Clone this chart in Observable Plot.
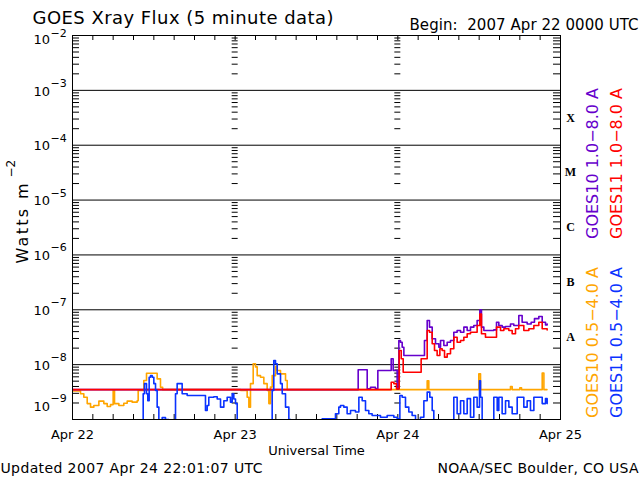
<!DOCTYPE html>
<html><head><meta charset="utf-8">
<script src="https://cdn.jsdelivr.net/npm/d3@7"></script>
<script src="https://cdn.jsdelivr.net/npm/@observablehq/plot@0.6"></script>
<style>body{margin:0;background:#fff} svg{display:block}</style>
</head><body><div id="chart"></div>
<script>
const startDate = "2007-04-22T00:00:00Z";
const dayLabels = ["Apr 22", "Apr 23", "Apr 24", "Apr 25"];
const decadeExponents = [-2, -3, -4, -5, -6, -7, -8, -9];
const flareClasses = ["X", "M", "C", "B", "A"];
const flareClassFloors = [1e-4, 1e-5, 1e-6, 1e-7, 1e-8];
const titleText = "GOES Xray Flux (5 minute data)";
const beginText = "Begin:  2007 Apr 22 0000 UTC";
const updatedText = "Updated 2007 Apr 24 22:01:07 UTC";
const creditText = "NOAA/SEC Boulder, CO USA";
const xTitle = "Universal Time";
const yTitle = "Watts m";

// hours since 2007-04-22 00:00 UTC, flux in W m^-2
const goes10ShortHours = [0,1.18,1.67,2.17,2.66,3.15,3.89,4.62,5.12,5.61,6.0,6.2,6.84,7.57,8.07,8.8,9.54,9.69,10.03,10.52,10.92,12.25,12.49,12.98,13.3,24.79,25.77,26.02,26.26,26.66,27.0,27.25,27.74,28.23,28.72,28.97,29.21,29.46,29.95,30.2,30.69,31.43,31.68,52.33,52.57,59.95,60.2,64.62,64.87,66.0,66.25,69.3,69.55,70.0];
const goes10ShortFlux = [3.3e-9,2.95e-9,2.55e-9,1.95e-9,1.68e-9,1.8e-9,2.16e-9,1.95e-9,1.73e-9,1.87e-9,3.4e-9,1.95e-9,1.8e-9,1.98e-9,2.16e-9,2.07e-9,2.2e-9,3.4e-9,3.4e-9,5.14e-9,6.98e-9,6.98e-9,5.5e-9,3.88e-9,3.5e-9,3.4e-9,2.55e-9,1.68e-9,4.5e-9,1.04e-8,9.1e-9,6.3e-9,5.9e-9,4.5e-9,3.4e-9,1.95e-9,3.9e-9,6.3e-9,9.25e-9,7.8e-9,6.8e-9,5.14e-9,3.5e-9,5.1e-9,3.5e-9,6.8e-9,3.5e-9,4.0e-9,3.5e-9,3.8e-9,3.5e-9,7.0e-9,3.5e-9,3.5e-9];

const goes11ShortHours = [0,10.28,10.43,10.62,10.92,11.11,11.31,11.51,11.76,12.0,12.25,12.49,12.74,13.23,13.72,14.2,14.95,15.2,15.44,15.93,16.18,16.92,19.38,19.62,19.87,20.11,20.85,21.35,21.84,22.33,22.82,23.31,23.56,23.8,24.05,24.3,29.21,29.46,29.7,29.95,30.2,30.69,30.94,31.43,31.92,32.2,36.84,38.56,38.8,39.29,39.54,40.03,40.52,41.02,41.75,42.25,42.74,43.23,43.72,44.21,45.44,46.43,47.41,47.9,48.3,48.64,49.13,49.62,50.11,50.61,51.34,51.84,52.33,52.72,53.07,53.31,56.02,56.26,56.75,57.25,57.74,58.23,58.72,59.21,59.7,60.05,60.2,60.44,61.67,62.16,62.66,62.9,63.39,63.89,64.38,64.87,65.61,66.1,66.59,67.08,67.57,68.07,68.8,69.3,69.79,70.03];
const goes11ShortFlux = [8e-10,8e-10,2.95e-9,4.5e-9,2.95e-9,2.2e-9,5.9e-9,6.3e-9,5.9e-9,4.5e-9,3.4e-9,1.68e-9,8e-10,1.08e-9,1.0e-9,8e-10,8e-10,2.95e-9,4.5e-9,4.5e-9,2.95e-9,2.74e-9,2.74e-9,1.46e-9,1.8e-9,2.55e-9,2.6e-9,2.37e-9,1.68e-9,2.2e-9,2.55e-9,2.07e-9,2.95e-9,2.37e-9,1.95e-9,8e-10,8e-10,3.4e-9,1.19e-8,1.04e-8,6.8e-9,4.5e-9,2.95e-9,1.68e-9,1.0e-9,8e-10,1.03e-9,1.03e-9,1.27e-9,1.68e-9,1.8e-9,1.68e-9,1.27e-9,1.46e-9,1.37e-9,2.55e-9,2.2e-9,1.46e-9,1.27e-9,1.18e-9,1.1e-9,1.18e-9,1.1e-9,1.03e-9,2.74e-9,2.55e-9,1.68e-9,1.37e-9,1.18e-9,8e-10,1.1e-9,2.2e-9,3.15e-9,2.55e-9,1.46e-9,8e-10,8e-10,2.55e-9,1.27e-9,2.2e-9,1.27e-9,2.4e-9,1.1e-9,2.55e-9,1.68e-9,5.1e-9,2.55e-9,8e-10,8e-10,2.55e-9,1.46e-9,2.55e-9,1.27e-9,2.2e-9,1.68e-9,1.27e-9,2.55e-9,2.55e-9,1.68e-9,2.2e-9,1.46e-9,2.55e-9,2.55e-9,1.95e-9,2.4e-9,1.95e-9];

const goes10LongHours = [0,42.15,43.23,43.48,43.97,44.7,45.05,46.92,47.02,47.31,47.9,48.15,48.39,48.64,48.89,51.84,51.93,52.33,52.67,53.07,53.56,54.05,54.3,54.79,55.28,55.77,56.26,56.75,57.25,57.74,58.23,58.72,59.21,59.7,60.1,60.34,60.69,62.16,62.56,62.9,63.39,63.89,64.62,65.11,65.85,66.34,67.08,67.67,68.16,68.8,69.3,69.79,70.03];
const goes10LongFlux = [3.5e-9,8.05e-9,8.05e-9,3.62e-9,3.88e-9,3.62e-9,7.8e-9,7.8e-9,1.28e-8,7.8e-9,3.62e-9,2.75e-8,2.56e-8,2.08e-8,1.47e-8,1.47e-8,2.75e-8,6.38e-8,4.82e-8,2.96e-8,2.4e-8,2.08e-8,2.75e-8,2.23e-8,2.56e-8,2.75e-8,3.9e-8,4.19e-8,3.9e-8,4.82e-8,4.19e-8,4.82e-8,5.17e-8,6.38e-8,1.0e-7,4.82e-8,4.19e-8,4.3e-8,5.94e-8,5.17e-8,4.82e-8,4.96e-8,5.5e-8,5.17e-8,7.86e-8,5.94e-8,5.5e-8,5.94e-8,6.9e-8,7.55e-8,5.94e-8,5.3e-8,5.5e-8];

const goes11LongHours = [0,47.02,47.41,47.8,48.2,48.5,48.79,51.44,52.33,52.67,53.07,53.41,53.8,54.2,54.54,54.89,55.28,55.77,56.26,56.75,57.25,57.74,58.23,58.72,59.7,60.1,60.34,60.93,62.56,63.15,63.64,64.38,64.87,65.36,65.85,66.59,67.33,68.07,68.8,69.3,70.03];
const goes11LongFlux = [3.5e-9,4.79e-9,4.5e-9,3.62e-9,1.81e-8,1.28e-8,7.28e-9,1.28e-8,4.19e-8,3.9e-8,2.4e-8,1.81e-8,1.47e-8,1.95e-8,1.81e-8,1.37e-8,1.58e-8,1.95e-8,3.16e-8,2.56e-8,2.75e-8,3.16e-8,3.65e-8,3.9e-8,5.17e-8,8.4e-8,3.65e-8,3.16e-8,4.82e-8,4.19e-8,4.5e-8,4.19e-8,3.65e-8,4.5e-8,5.17e-8,4.19e-8,4.5e-8,5.17e-8,5.94e-8,4.5e-8,4.3e-8];

const seriesNames = ["GOES10 0.5\u22124.0 A", "GOES10 1.0\u22128.0 A", "GOES11 1.0\u22128.0 A", "GOES11 0.5\u22124.0 A"];
const seriesColors = ["#ffa500", "#6600cc", "#ff0000", "#0a32ff"];

const t0 = new Date(startDate);
const toDate = h => new Date(+t0 + h * 3600e3);
const rows = (hours, flux) => hours.map((h, i) => ({time: toDate(h), flux: flux[i]}));
const seriesData = [
  rows(goes10ShortHours, goes10ShortFlux),
  rows(goes10LongHours, goes10LongFlux),
  rows(goes11LongHours, goes11LongFlux),
  rows(goes11ShortHours, goes11ShortFlux)
];
const days = dayLabels.map((_, i) => toDate(24 * i));
const minorTicks = d3.range(-9, -2).flatMap(e => d3.range(2, 10).map(m => m * 10 ** e));
const hourTicks = d3.utcHour.every(3).range(days[0], days[3]).slice(1);
const midDayTicks = d3.cross([days[1], days[2]], minorTicks, (day, v) => ({day, v}));
const gridDecades = decadeExponents.slice(1, -1).map(e => 10 ** e);

const font = "DejaVu Sans";
const lbl = {fill: "black", fontFamily: font};

const chart = Plot.plot({
  width: 640, height: 480,
  marginLeft: 72, marginRight: 80, marginTop: 35, marginBottom: 61,
  style: {fontFamily: font, background: "white", color: "black"},
  x: {type: "utc", domain: [days[0], days[3]], axis: null},
  y: {type: "log", domain: [1e-9, 1e-2], axis: null},
  marks: [
    Plot.ruleY(gridDecades, {stroke: "black", strokeWidth: 1}),
    Plot.ruleY(minorTicks, {stroke: "black", insetRight: 481}),
    Plot.ruleY(minorTicks, {stroke: "black", insetLeft: 481}),
    Plot.ruleY(midDayTicks, {y: "v", x1: "day", x2: "day", insetLeft: -3, insetRight: -3, stroke: "black"}),
    Plot.ruleX(hourTicks, {stroke: "black", insetBottom: 379}),
    Plot.ruleX(hourTicks, {stroke: "black", insetTop: 379}),
    ...seriesData.map((d, i) => Plot.line(d, {x: "time", y: "flux", stroke: seriesColors[i], strokeWidth: 1.6, curve: "step-after", clip: true})),
    Plot.frame({stroke: "black"}),
    // y tick labels
    Plot.text(decadeExponents.slice(1, -1), {y: e => 10 ** e, text: () => "10", frameAnchor: "left", dx: -39, dy: 1, textAnchor: "start", lineAnchor: "middle", fontSize: 13, ...lbl}),
    Plot.text(decadeExponents.slice(1, -1), {y: e => 10 ** e, text: e => "\u2212" + (-e), frameAnchor: "left", dx: -22, dy: -7, textAnchor: "start", lineAnchor: "middle", fontSize: 11, ...lbl}),
    Plot.text(decadeExponents.slice(0, 1), {y: e => 10 ** e, text: () => "10", frameAnchor: "left", dx: -39, dy: 4, textAnchor: "start", lineAnchor: "middle", fontSize: 13, ...lbl}),
    Plot.text(decadeExponents.slice(0, 1), {y: e => 10 ** e, text: e => "\u2212" + (-e), frameAnchor: "left", dx: -22, dy: -2, textAnchor: "start", lineAnchor: "middle", fontSize: 11, ...lbl}),
    Plot.text(decadeExponents.slice(-1), {y: e => 10 ** e, text: () => "10", frameAnchor: "left", dx: -39, dy: -13, textAnchor: "start", lineAnchor: "middle", fontSize: 13, ...lbl}),
    Plot.text(decadeExponents.slice(-1), {y: e => 10 ** e, text: e => "\u2212" + (-e), frameAnchor: "left", dx: -22, dy: -21, textAnchor: "start", lineAnchor: "middle", fontSize: 11, ...lbl}),
    // y title
    Plot.text([yTitle], {frameAnchor: "left", rotate: -90, dx: -45, dy: 36, textAnchor: "start", lineAnchor: "bottom", fontSize: 16, ...lbl}),
    Plot.text(["\u22122"], {frameAnchor: "left", rotate: -90, dx: -58, dy: -50, textAnchor: "start", lineAnchor: "bottom", fontSize: 12, ...lbl}),
    // x labels
    Plot.text(days, {x: d => d, text: (d, i) => dayLabels[i], frameAnchor: "bottom", dy: 15, lineAnchor: "middle", fontSize: 13, ...lbl}),
    Plot.text([xTitle], {frameAnchor: "bottom", dy: 31, lineAnchor: "middle", fontSize: 13, ...lbl}),
    Plot.text([updatedText], {frameAnchor: "bottom-left", dx: -72, dy: 49, textAnchor: "start", lineAnchor: "middle", fontSize: 14, ...lbl}),
    Plot.text([creditText], {frameAnchor: "bottom-right", dx: 78, dy: 49, textAnchor: "end", lineAnchor: "middle", fontSize: 14, ...lbl}),
    // titles
    Plot.text([titleText], {frameAnchor: "top-left", dx: -40, dy: -12, textAnchor: "start", lineAnchor: "bottom", fontSize: 18, ...lbl}),
    Plot.text([beginText], {frameAnchor: "top-right", dx: 78, dy: -6, textAnchor: "end", lineAnchor: "bottom", fontSize: 15, ...lbl}),
    // flare classes
    Plot.text(flareClasses, {y: (d, i) => flareClassFloors[i] * Math.sqrt(10), text: d => d, frameAnchor: "right", dx: 10, textAnchor: "middle", lineAnchor: "middle", fontSize: 12, fontWeight: "bold", fill: "black", fontFamily: "Liberation Serif"}),
    // legend
    Plot.text([seriesNames[1]], {frameAnchor: "top-right", dx: 37, dy: 128, rotate: -90, textAnchor: "middle", lineAnchor: "bottom", fontSize: 16, fill: seriesColors[1], fontFamily: font}),
    Plot.text([seriesNames[2]], {frameAnchor: "top-right", dx: 61, dy: 128, rotate: -90, textAnchor: "middle", lineAnchor: "bottom", fontSize: 16, fill: seriesColors[2], fontFamily: font}),
    Plot.text([seriesNames[0]], {frameAnchor: "top-right", dx: 37, dy: 307, rotate: -90, textAnchor: "middle", lineAnchor: "bottom", fontSize: 16, fill: seriesColors[0], fontFamily: font}),
    Plot.text([seriesNames[3]], {frameAnchor: "top-right", dx: 61, dy: 307, rotate: -90, textAnchor: "middle", lineAnchor: "bottom", fontSize: 16, fill: seriesColors[3], fontFamily: font})
  ]
});
// stretch some texts to the widths they have in the reference
const textWidths = new Map([[titleText, 301], [beginText, 229], [updatedText, 262], [creditText, 201], [yTitle, 80]]);
d3.select(chart).selectAll("text").each(function() {
  const w = textWidths.get(this.textContent);
  if (w) { this.setAttribute("textLength", w); this.setAttribute("lengthAdjust", "spacing"); }
});
document.getElementById("chart").append(chart);
</script>
</body></html>
